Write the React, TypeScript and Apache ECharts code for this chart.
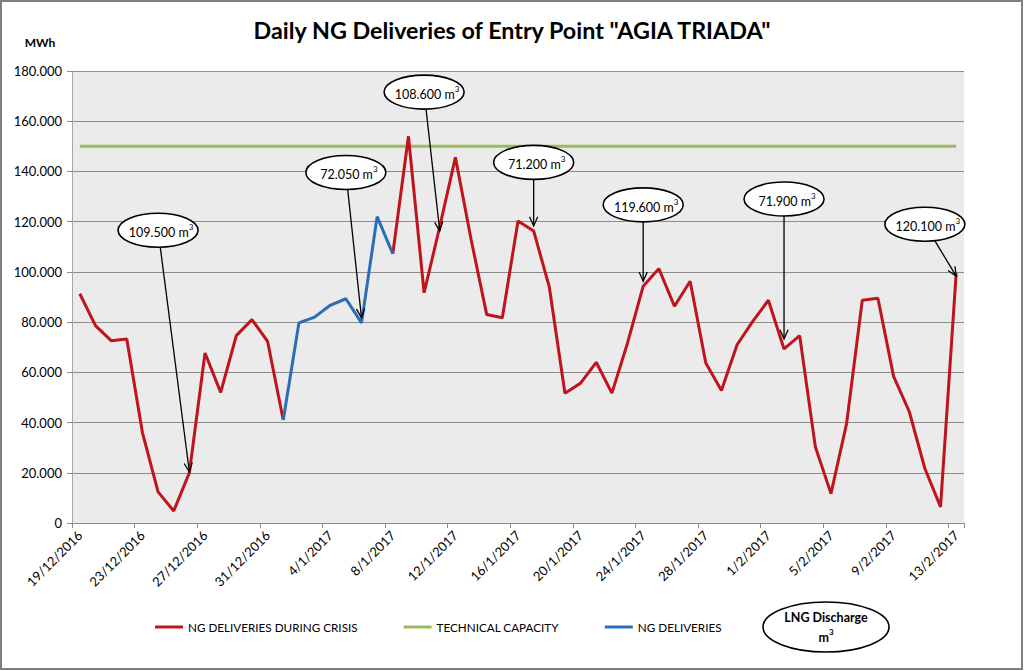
import React, { useEffect, useRef } from "react";
import * as echarts from "echarts";

const categories = [
  "19/12/2016", "20/12/2016", "21/12/2016", "22/12/2016", "23/12/2016", "24/12/2016", "25/12/2016",
  "26/12/2016", "27/12/2016", "28/12/2016", "29/12/2016", "30/12/2016", "31/12/2016",
  "1/1/2017", "2/1/2017", "3/1/2017", "4/1/2017", "5/1/2017", "6/1/2017", "7/1/2017", "8/1/2017",
  "9/1/2017", "10/1/2017", "11/1/2017", "12/1/2017", "13/1/2017", "14/1/2017", "15/1/2017",
  "16/1/2017", "17/1/2017", "18/1/2017", "19/1/2017", "20/1/2017", "21/1/2017", "22/1/2017",
  "23/1/2017", "24/1/2017", "25/1/2017", "26/1/2017", "27/1/2017", "28/1/2017", "29/1/2017",
  "30/1/2017", "31/1/2017", "1/2/2017", "2/2/2017", "3/2/2017", "4/2/2017", "5/2/2017",
  "6/2/2017", "7/2/2017", "8/2/2017", "9/2/2017", "10/2/2017", "11/2/2017", "12/2/2017", "13/2/2017",
];

const crisisDeliveries: (number | null)[] = [
  91300, 78600, 72600, 73300, 36000, 12400, 4800, 20000, 67700, 52000, 74600, 81000, 72300, 41000,
  null, null, null, null, null, null,
  107200, 154000, 91700, 118000, 145600, 113000, 83000, 81700, 120300, 116300, 94000, 51700,
  55700, 64000, 51700, 71700, 94300, 101300, 86300, 96300, 63700, 52800, 71000, 80300, 88700,
  69300, 74600, 30400, 11700, 39700, 88700, 89500, 58400, 44400, 21700, 6400, 99400,
];

const normalDeliveries: (number | null)[] = [
  null, null, null, null, null, null, null, null, null, null, null, null, null,
  41000, 79700, 82000, 86700, 89300, 79700, 122000, 107200,
  null, null, null, null, null, null, null, null, null, null, null, null, null, null, null,
  null, null, null, null, null, null, null, null, null, null, null, null, null, null, null,
  null, null, null, null, null, null,
];

const technicalCapacity: number[] = [
  150000, 150000, 150000, 150000, 150000, 150000, 150000, 150000, 150000, 150000, 150000, 150000,
  150000, 150000, 150000, 150000, 150000, 150000, 150000, 150000, 150000, 150000, 150000, 150000,
  150000, 150000, 150000, 150000, 150000, 150000, 150000, 150000, 150000, 150000, 150000, 150000,
  150000, 150000, 150000, 150000, 150000, 150000, 150000, 150000, 150000, 150000, 150000, 150000,
  150000, 150000, 150000, 150000, 150000, 150000, 150000, 150000, 150000,
];

// LNG discharge callouts (volume text, arrow target and bubble anchor in data coordinates)
const calloutVolumes = ["109.500", "72.050", "108.600", "71.200", "119.600", "71.900", "120.100"];
const calloutTargetIdx = [6.98, 18.01, 22.7, 28.98, 35.9, 45.01, 55.95];
const calloutTargetVal = [20300, 81700, 116300, 118300, 96300, 73300, 98300];
const calloutBubbleIdx = [5.49, 17.48, 22.17, 29.2, 35.97, 44.85, 53.58];
const calloutBubbleVal = [116600, 139600, 171600, 143600, 126700, 129000, 119000];

const yTicks = { min: 0, max: 180000, interval: 20000 };

const FONT = "Lato, 'Liberation Sans', sans-serif";

function fmtThousands(v: number) {
  if (v === 0) return "0";
  return String(v).replace(/\B(?=(\d{3})+(?!\d))/g, ".");
}

export default function App() {
  const ref = useRef<HTMLDivElement>(null);
  useEffect(() => {
    if (!ref.current) return;
    const chart = echarts.init(ref.current, undefined, { renderer: "svg" });
    const option: any = {
      animation: false,
      backgroundColor: "#ffffff",
      title: {
        text: 'Daily NG Deliveries of Entry Point "AGIA TRIADA"',
        left: "center",
        top: 13,
        textStyle: { fontFamily: FONT, fontSize: 23.3, fontWeight: "bold", color: "#000" },
      },
      grid: {
        left: 72,
        right: 60,
        top: 71,
        bottom: 148,
        show: true,
        backgroundColor: "#EBEBEB",
        borderWidth: 0,
      },
      legend: {
        left: 150,
        top: 616,
        itemWidth: 28,
        itemHeight: 3,
        itemGap: 46,
        icon: "rect",
        textStyle: { fontFamily: FONT, fontSize: 11.7, color: "#000" },
        data: ["NG DELIVERIES DURING CRISIS", "TECHNICAL CAPACITY", "NG DELIVERIES"],
      },
      xAxis: {
        type: "category",
        data: categories,
        boundaryGap: true,
        axisLine: { show: true, lineStyle: { color: "#8C8C8C", width: 1 } },
        axisTick: { show: true, interval: 3, length: 5, lineStyle: { color: "#8C8C8C" } },
        axisLabel: {
          interval: 3,
          rotate: 45,
          margin: 10,
          fontFamily: FONT,
          fontSize: 13,
          color: "#000",
        },
        splitLine: { show: false },
      },
      yAxis: {
        type: "value",
        min: yTicks.min,
        max: yTicks.max,
        interval: yTicks.interval,
        axisLine: { show: true, lineStyle: { color: "#A6A6A6" } },
        axisTick: { show: true, length: 5, lineStyle: { color: "#8C8C8C" } },
        axisLabel: {
          fontFamily: FONT,
          fontSize: 13,
          color: "#000",
          margin: 10,
          formatter: (v: number) => fmtThousands(v),
        },
        splitLine: { show: true, lineStyle: { color: "#8C8C8C", width: 1 } },
      },
      series: [
        {
          name: "NG DELIVERIES DURING CRISIS",
          type: "line",
          data: crisisDeliveries,
          showSymbol: false,
          connectNulls: false,
          itemStyle: { color: "#C0141C" },
          lineStyle: { color: "#C0141C", width: 3 },
          z: 3,
        },
        {
          name: "TECHNICAL CAPACITY",
          type: "line",
          data: technicalCapacity,
          showSymbol: false,
          itemStyle: { color: "#9BBB59" },
          lineStyle: { color: "#9BBB59", width: 3 },
          z: 2,
        },
        {
          name: "NG DELIVERIES",
          type: "line",
          data: normalDeliveries,
          showSymbol: false,
          connectNulls: false,
          itemStyle: { color: "#2A6EB8" },
          lineStyle: { color: "#2A6EB8", width: 3 },
          z: 3,
        },
        {
          name: "callouts",
          type: "custom",
          clip: false,
          z: 10,
          data: calloutVolumes.map((_, i) => [calloutBubbleIdx[i], calloutBubbleVal[i]]),
          renderItem: (params: any, api: any) => {
            const i = params.dataIndex;
            const c = api.coord([calloutBubbleIdx[i], calloutBubbleVal[i]]);
            const t = api.coord([calloutTargetIdx[i], calloutTargetVal[i]]);
            const rx = 40;
            const ry = 17;
            const dx = t[0] - c[0];
            const dy = t[1] - c[1];
            const s = 1 / Math.sqrt((dx / rx) ** 2 + (dy / ry) ** 2);
            const sx = c[0] + dx * s;
            const sy = c[1] + dy * s;
            const len = Math.sqrt(dx * dx + dy * dy);
            const ux = dx / len;
            const uy = dy / len;
            const hl = 10;
            const ang = 0.42;
            const rot = (a: number) => [
              t[0] - hl * (ux * Math.cos(a) - uy * Math.sin(a)),
              t[1] - hl * (ux * Math.sin(a) + uy * Math.cos(a)),
            ];
            const h1 = rot(ang);
            const h2 = rot(-ang);
            return {
              type: "group",
              children: [
                {
                  type: "line",
                  shape: { x1: sx, y1: sy, x2: t[0], y2: t[1] },
                  style: { stroke: "#000", lineWidth: 1.3 },
                },
                {
                  type: "polyline",
                  shape: { points: [h1, [t[0], t[1]], h2] },
                  style: { stroke: "#000", lineWidth: 1.3, fill: "none" },
                },
                {
                  type: "ellipse",
                  shape: { cx: c[0], cy: c[1], rx, ry },
                  style: { fill: "#ffffff", stroke: "#000", lineWidth: 1.6 },
                },
                {
                  type: "text",
                  x: c[0] + 3,
                  y: c[1] + 1,
                  style: {
                    text: "{a|" + calloutVolumes[i] + " m}{s|3}",
                    align: "center",
                    verticalAlign: "middle",
                    fontFamily: FONT,
                    fill: "#000",
                    rich: {
                      a: { fontFamily: FONT, fontSize: 12.5, fill: "#000", lineHeight: 16, verticalAlign: "bottom" },
                      s: { fontFamily: FONT, fontSize: 8, fill: "#000", lineHeight: 16, verticalAlign: "top" },
                    },
                  },
                },
              ],
            };
          },
        },
      ],
      graphic: [
        {
          type: "rect",
          shape: { x: 1, y: 1, width: 1021, height: 668 },
          style: { fill: "none", stroke: "#7F7F7F", lineWidth: 2 },
          silent: true,
        },
        {
          type: "text",
          x: 40,
          y: 42,
          style: {
            text: "MWh",
            align: "center",
            verticalAlign: "middle",
            fontFamily: FONT,
            fontSize: 12,
            fontWeight: "bold",
            fill: "#000",
          },
        },
        {
          type: "ellipse",
          shape: { cx: 826, cy: 627, rx: 63, ry: 25 },
          style: { fill: "#ffffff", stroke: "#000", lineWidth: 1.6 },
        },
        {
          type: "text",
          x: 826,
          y: 617,
          style: {
            text: "LNG Discharge",
            align: "center",
            verticalAlign: "middle",
            fontFamily: FONT,
            fontSize: 12.5,
            fontWeight: "bold",
            fill: "#000",
          },
        },
        {
          type: "text",
          x: 826,
          y: 636,
          style: {
            text: "{a|m}{s|3}",
            align: "center",
            verticalAlign: "middle",
            fontFamily: FONT,
            fill: "#000",
            rich: {
              a: { fontFamily: FONT, fontSize: 12.5, fontWeight: "bold", fill: "#000", lineHeight: 16, verticalAlign: "bottom" },
              s: { fontFamily: FONT, fontSize: 8, fontWeight: "bold", fill: "#000", lineHeight: 16, verticalAlign: "top" },
            },
          },
        },
      ],
    };
    chart.setOption(option);
    return () => chart.dispose();
  }, []);
  return (
    <div
      ref={ref}
      style={{ position: "absolute", left: 0, top: 0, width: 1024, height: 671 }}
    />
  );
}
